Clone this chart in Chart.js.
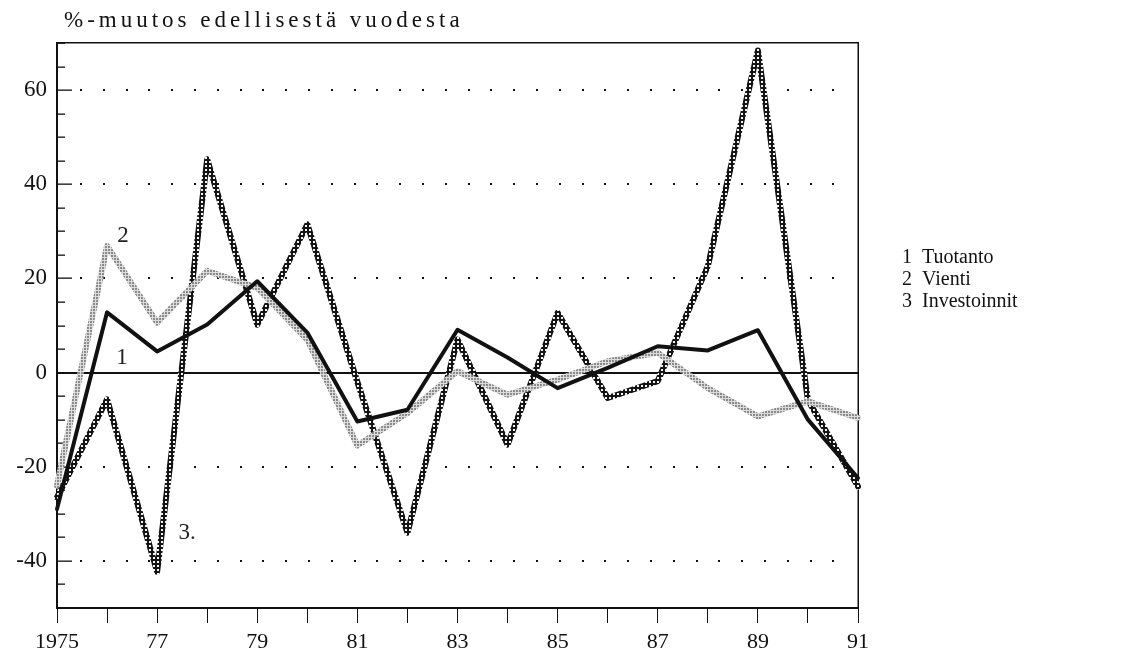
<!DOCTYPE html>
<html>
<head>
<meta charset="utf-8">
<script src="https://cdn.jsdelivr.net/npm/chart.js@4.4.1/dist/chart.umd.min.js"></script>
<style>
  body { margin: 0; background: #fff; }
  #wrap { position: relative; width: 1123px; height: 659px; }
  #otsikko { position: absolute; left: 64px; top: 7px; font: 23px "Liberation Serif", serif; letter-spacing: 4px; color: #111; }
  #selite { position: absolute; left: 902px; top: 245px; font: 20px "Liberation Serif", serif; line-height: 22px; color: #111; }
</style>
</head>
<body>
<div id="wrap">
  <canvas id="kuva" width="1123" height="659"></canvas>
  <div id="otsikko">%-muutos edellisestä vuodesta</div>
  <div id="selite"></div>
</div>
<script>
const vuodet = [1975,1976,1977,1978,1979,1980,1981,1982,1983,1984,1985,1986,1987,1988,1989,1990,1991]
const tuotanto = [-29,12.8,4.5,10.2,19.4,8.5,-10.4,-7.9,9.1,3.2,-3.3,1,5.6,4.7,9,-10,-22.4]
const vienti = [-24,26.9,10.6,21.6,18,7,-15.5,-8.6,0.3,-4.7,-1.5,2.4,4.2,-3.3,-9.3,-6.1,-9.6]
const investoinnit = [-26.5,-5.7,-42.3,45.3,10.2,31.5,-2,-34,7,-15.3,12.7,-5.4,-1.8,22.6,68.4,-5.8,-24.2]
const sarjat = ["Tuotanto","Vienti","Investoinnit"]
const yLuvut = [60,40,20,0,-20,-40]

// tekstuurit viivoille
function kuvio(koko, piirra) {
  const c = document.createElement("canvas")
  c.width = koko; c.height = koko
  piirra(c.getContext("2d"))
  return c.getContext("2d").createPattern(c, "repeat")
}
const vaalea = kuvio(3, g => {
  g.fillStyle = "#dcdcdc"; g.fillRect(0,0,3,3)
  g.fillStyle = "#8a8a8a"; g.fillRect(0,0,2,2)
})
const tumma = kuvio(4, g => {
  g.fillStyle = "#141414"; g.fillRect(0,0,4,4)
  g.fillStyle = "#f4f4f4"; g.fillRect(1,1,2,2)
})

document.querySelector("#selite").innerHTML = sarjat.map((s,i) => (i+1) + "&nbsp;&nbsp;" + s).join("<br>")

const tausta = {
  id: "tausta",
  beforeDatasetsDraw(chart) {
    const {ctx, chartArea: a, scales: {y}} = chart
    ctx.save()
    // pisteviivat
    ctx.fillStyle = "#111"
    yLuvut.forEach(v => {
      const py = Math.round(y.getPixelForValue(v))
      if (v === 0) {
        ctx.fillRect(a.left, py - 1, a.right - a.left, 2)
      } else {
        for (let px = a.left + 23; px < a.right - 4; px += 22.8) ctx.fillRect(Math.round(px), py - 1, 2, 2)
      }
    })
    // y-akselin sisäiset jakoviivat
    for (let v = -50; v <= 70; v += 5) {
      const py = Math.round(y.getPixelForValue(v))
      const pituus = yLuvut.includes(v) ? 15 : 8
      ctx.fillRect(a.left, py - 0.5, pituus, 1.3)
    }
    // kehys ylä ja oikea
    ctx.fillRect(a.left, a.top - 1, a.right - a.left + 1, 1.5)
    ctx.fillRect(a.right - 0.5, a.top - 1, 1.5, a.bottom - a.top + 1)
    ctx.restore()
  },
  afterDatasetsDraw(chart) {
    const {ctx, scales: {x, y}} = chart
    ctx.save()
    ctx.fillStyle = "#222"
    ctx.font = "23px 'Liberation Serif'"
    ctx.textAlign = "center"
    ctx.textBaseline = "middle"
    ctx.fillText("2", x.getPixelForValue(1976.32), y.getPixelForValue(29))
    ctx.fillText("1", x.getPixelForValue(1976.3), y.getPixelForValue(3.2))
    ctx.fillText("3.", x.getPixelForValue(1977.6), y.getPixelForValue(-34))
    ctx.restore()
  }
}

new Chart(document.querySelector("#kuva"), {
  type: "line",
  data: {
    datasets: [
      { label: sarjat[0], data: vuodet.map((v,i) => ({x: v, y: tuotanto[i]})), borderColor: "#111", borderWidth: 4 },
      { label: sarjat[1], data: vuodet.map((v,i) => ({x: v, y: vienti[i]})), borderColor: vaalea, borderWidth: 6 },
      { label: sarjat[2], data: vuodet.map((v,i) => ({x: v, y: investoinnit[i]})), borderColor: tumma, borderWidth: 6 }
    ]
  },
  options: {
    responsive: false,
    animation: false,
    clip: false,
    pointRadius: 0,
    tension: 0,
    borderJoinStyle: "round",
    borderCapStyle: "round",
    layout: { padding: { left: 0, right: 265, top: 43, bottom: 0 } },
    plugins: { legend: { display: false }, tooltip: { enabled: false } },
    scales: {
      x: {
        type: "linear", min: 1975, max: 1991,
        afterFit(s) { s.height = 51 },
        ticks: {
          stepSize: 1, autoSkip: false, maxRotation: 0, padding: 6, color: "#111",
          font: { family: "Liberation Serif", size: 22 },
          callback: v => (v % 2 === 1) ? (v === 1975 ? "1975" : String(v).slice(2)) : ""
        },
        grid: { drawOnChartArea: false, tickLength: 15, color: "#111", lineWidth: 1 },
        border: { color: "#111", width: 2 }
      },
      y: {
        min: -50, max: 70,
        afterFit(s) { s.width = 57 },
        ticks: {
          stepSize: 5, autoSkip: false, padding: 10, color: "#111",
          font: { family: "Liberation Serif", size: 23 },
          callback: v => yLuvut.includes(v) ? String(v) : ""
        },
        grid: { display: false, drawTicks: false },
        border: { color: "#111", width: 2 }
      }
    }
  },
  plugins: [tausta]
})
</script>
</body>
</html>
